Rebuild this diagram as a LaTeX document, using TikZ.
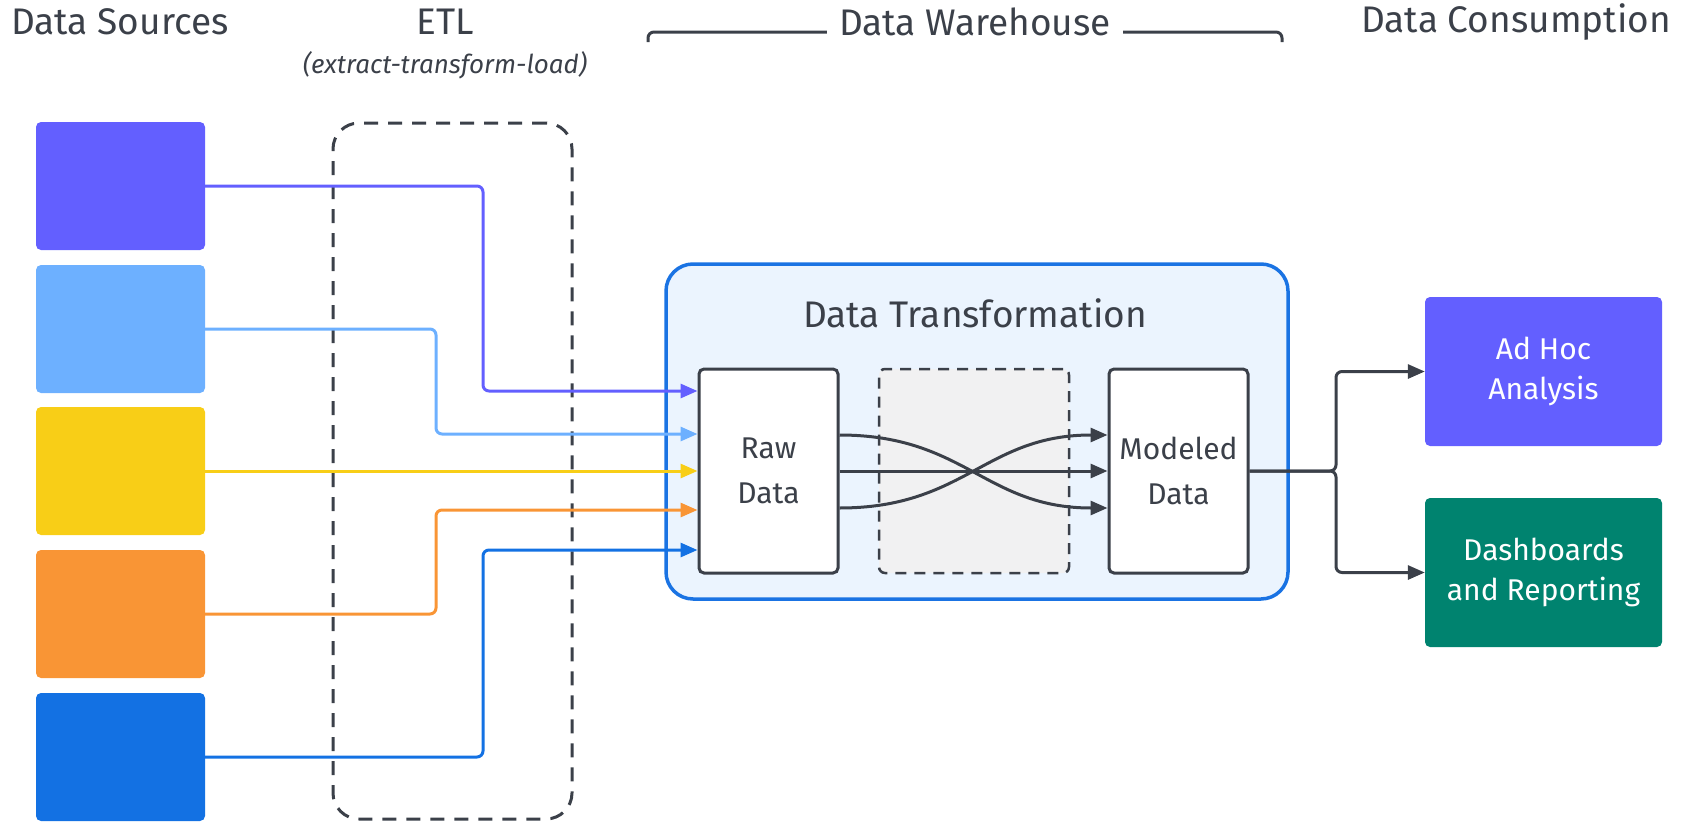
\documentclass[tikz,border=0pt]{standalone}
\usepackage{fontspec}
\setmainfont{Fira Sans}
\usetikzlibrary{arrows.meta,calc}
\definecolor{ink}{HTML}{3B4049}
\definecolor{cpurple}{HTML}{635FFF}
\definecolor{clight}{HTML}{6DB0FF}
\definecolor{cyellow}{HTML}{F8CE17}
\definecolor{corange}{HTML}{F99535}
\definecolor{cblue}{HTML}{1371E3}
\definecolor{cteal}{HTML}{00836F}
\definecolor{whfill}{HTML}{EBF4FE}
\definecolor{whborder}{HTML}{1A73E3}
\definecolor{grayfill}{HTML}{F1F1F2}
\tikzset{
  src/.style={rectangle, rounded corners=5pt, minimum width=169pt, minimum height=128pt, inner sep=0pt},
  conn/.style={line width=3pt, rounded corners=6pt, -{Triangle[length=17pt,width=14pt]}},
  darr/.style={line width=3pt, draw=ink, rounded corners=6pt, -{Triangle[length=17pt,width=14pt]}},
  head/.style={text=ink, font=\fontsize{37}{44}\selectfont, inner sep=0pt},
  inbox/.style={rectangle, draw=ink, line width=3pt, fill=white, rounded corners=5pt, minimum width=139pt, minimum height=204pt, inner sep=0pt, text=ink, align=center, font=\fontsize{30}{45}\selectfont},
  outbox/.style={rectangle, rounded corners=5pt, minimum width=237pt, minimum height=149pt, inner sep=0pt, text=white, align=center, font=\fontsize{30}{40}\selectfont},
}
\begin{document}
\begin{tikzpicture}[x=1pt,y=-1pt]
\useasboundingbox (0,0) rectangle (1692,822);
% headers
\node[head, anchor=west] (hsrc) at (11,22) {Data Sources};
\node[head] (hetl) at (445,22) {ETL};
\node[text=ink, font=\fontsize{26}{30}\selectfont\itshape, inner sep=0pt] (hetl2) at (445,65) {(extract-transform-load)};
\node[head] (hdw) at (975,22) {Data Warehouse};
\node[head] (hdc) at (1516,22) {Data Consumption};
\draw[ink, line width=3pt, rounded corners=6pt] (648,42) -- (648,32) -- ([xshift=-12pt]hdw.west |- 0,32);
\draw[ink, line width=3pt, rounded corners=6pt] ([xshift=12pt]hdw.east |- 0,32) -- (1282,32) -- (1282,42);
% ETL dashed box
\node[draw=ink, line width=3pt, dash pattern=on 14pt off 10pt, rounded corners=26pt, minimum width=239pt, minimum height=696pt, inner sep=0pt] (etl) at (452.5,471) {};
% sources
\node[src, fill=cpurple] (s1) at (120.5,186) {};
\node[src, fill=clight] (s2) at (120.5,329) {};
\node[src, fill=cyellow] (s3) at (120.5,471) {};
\node[src, fill=corange] (s4) at (120.5,614) {};
\node[src, fill=cblue] (s5) at (120.5,757) {};
% warehouse
\node[rectangle, draw=whborder, fill=whfill, line width=3.5pt, rounded corners=27pt, minimum width=622pt, minimum height=335pt, inner sep=0pt] (wh) at (977,431.5) {};
\node[text=ink, font=\fontsize{37}{44}\selectfont, inner sep=0pt] (wht) at (975,313) {Data Transformation};
\node[rectangle, draw=ink, fill=grayfill, line width=2.5pt, dash pattern=on 11pt off 8pt, rounded corners=6pt, minimum width=190pt, minimum height=204pt, inner sep=0pt] (mid) at (974,471) {};
\node[inbox] (raw) at (768.5,471) {Raw\\Data};
\node[inbox] (mod) at (1178.5,471) {Modeled\\Data};
% source connectors
\draw[conn, cpurple] (s1.east) -- (483,186) -- (483,391) -- (raw.west |- 0,391);
\draw[conn, clight] (s2.east) -- (436,329) -- (436,434) -- (raw.west |- 0,434);
\draw[conn, cyellow] (s3.east) -- (raw.west);
\draw[conn, corange] (s4.east) -- (436,614) -- (436,510) -- (raw.west |- 0,510);
\draw[conn, cblue] (s5.east) -- (483,757) -- (483,550) -- (raw.west |- 0,550);
% inner arrows
\draw[darr] (raw.east |- 0,435) .. controls (965,435) and (985,508) .. (mod.west |- 0,508);
\draw[darr] (raw.east |- 0,508) .. controls (965,508) and (985,435) .. (mod.west |- 0,435);
\draw[darr] (raw.east) -- (mod.west);
% consumption
\node[outbox, fill=cpurple] (adhoc) at (1543.5,371.5) {Ad Hoc\\Analysis};
\node[outbox, fill=cteal] (dash) at (1543.5,572.5) {Dashboards\\and Reporting};
\coordinate (split) at (1336,471);
\draw[darr] (mod.east) -- (split) |- (adhoc.west);
\draw[darr] (mod.east) -- (split) |- (dash.west);
\end{tikzpicture}
\end{document}
